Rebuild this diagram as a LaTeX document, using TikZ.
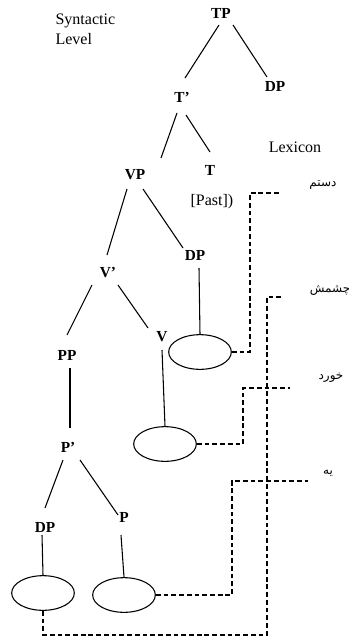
\documentclass[tikz,border=0pt]{standalone}
\usepackage{fontspec}
\setmainfont{Liberation Serif}
\newfontfamily\arabicfont[Script=Arabic]{DejaVu Sans}
\TeXXeTstate=1
\usetikzlibrary{calc, shapes.geometric}
\tikzset{
    cat/.style={font=\fontsize{11.5}{13}\selectfont\bfseries, inner sep=2pt},
    plain/.style={font=\fontsize{12}{15}\selectfont, inner sep=1pt},
    lex/.style={font=\arabicfont\fontsize{9}{11}\selectfont, inner sep=1pt},
    slot/.style={ellipse, draw, line width=0.8pt, minimum width=47pt, minimum height=26pt, inner sep=0pt},
    branch/.style={line width=0.8pt},
    link/.style={line width=0.8pt, dash pattern=on 3.6pt off 2.2pt}
}

\begin{document}
\begin{tikzpicture}[x=0.75pt, y=-0.75pt]
  % Canvas
  \path[use as bounding box] (0,0) rectangle (349,637);

  % Side labels
  \node[plain, align=left, anchor=west] (syn) at (54,29) {Syntactic\\Level};
  \node[plain] (lexicon) at (295,147) {Lexicon};

  % Tree nodes
  \node[cat] (TP)   at (221,13)  {TP};
  \node[cat] (DPa)  at (275,86)  {DP};
  \node[cat] (Tbar) at (182,97)  {T'};
  \node[cat] (T)    at (210,170) {T};
  \node[plain] (past) at (212,202) {[Past])};
  \node[cat] (VP)   at (135,175) {VP};
  \node[cat] (DPb)  at (195,255) {DP};
  \node[cat] (Vbar) at (108,273) {V'};
  \node[cat] (V)    at (162,337) {V};
  \node[cat] (PP)   at (67,355)  {PP};
  \node[cat] (Pbar) at (68,447)  {P'};
  \node[cat] (DPc)  at (45,527)  {DP};
  \node[cat] (P)    at (124,517) {P};

  % Empty slots
  \node[slot] (ea) at (200,352) {};
  \node[slot] (eb) at (165,444) {};
  \node[slot] (ec) at (43,593)  {};
  \node[slot] (ed) at (124,595) {};

  % Lexicon entries
  \node[lex] (lexA) at (323,185) {\beginR دستم\endR};
  \node[lex] (lexB) at (330,290) {\beginR چشمش\endR};
  \node[lex] (lexC) at (331,378) {\beginR خورد\endR};
  \node[lex] (lexD) at (328,473) {\beginR یه\endR};

  % Branches
  \draw[branch] ($(TP)+(-2,12)$)   -- ($(Tbar)+(3,-19)$);
  \draw[branch] ($(TP)+(12,12)$)   -- ($(DPa)+(-8,-9)$);
  \draw[branch] ($(Tbar)+(-5,16)$) -- ($(VP)+(26,-17)$);
  \draw[branch] ($(Tbar)+(4,18)$)  -- ($(T)+(0,-18)$);
  \draw[branch] ($(VP)+(-8,14)$)   -- ($(Vbar)+(-1,-18)$);
  \draw[branch] ($(VP)+(8,14)$)    -- ($(DPb)+(-12,-7)$);
  \draw[branch] ($(DPb)+(4,13)$)   -- (ea.north);
  \draw[branch] ($(Vbar)+(-16,12)$) -- ($(PP)+(0,-20)$);
  \draw[branch] ($(Vbar)+(10,12)$) -- ($(V)+(-14,-9)$);
  \draw[branch] ($(V)+(0,13)$)     -- (eb.north);
  \draw[branch] ($(PP)+(3,13)$)    -- ($(Pbar)+(2,-19)$);
  \draw[branch] ($(Pbar)+(-5,13)$) -- ($(DPc)+(0,-19)$);
  \draw[branch] ($(Pbar)+(12,13)$) -- ($(P)+(-6,-2)$);
  \draw[branch] ($(DPc)+(-3,8)$)   -- (ec.north);
  \draw[branch] ($(P)+(-3,18)$)    -- (ed.north);

  % Links to the lexicon
  \coordinate (k1) at (250,193);
  \coordinate (d1) at (279,193);
  \coordinate (b2) at (267,635);
  \coordinate (k2) at (267,297);
  \coordinate (d2) at (283,297);
  \coordinate (k3) at (243,388);
  \coordinate (d3) at (290,388);
  \coordinate (k4) at (232,481);
  \coordinate (d4) at (308,481);
  \draw[link] (ea.east) -| (k1) -- (d1);
  \draw[link] (ec.south) |- (b2) -- (k2) -- (d2);
  \draw[link] (eb.east) -| (k3) -- (d3);
  \draw[link] (ed.east) -| (k4) -- (d4);
\end{tikzpicture}
\end{document}
